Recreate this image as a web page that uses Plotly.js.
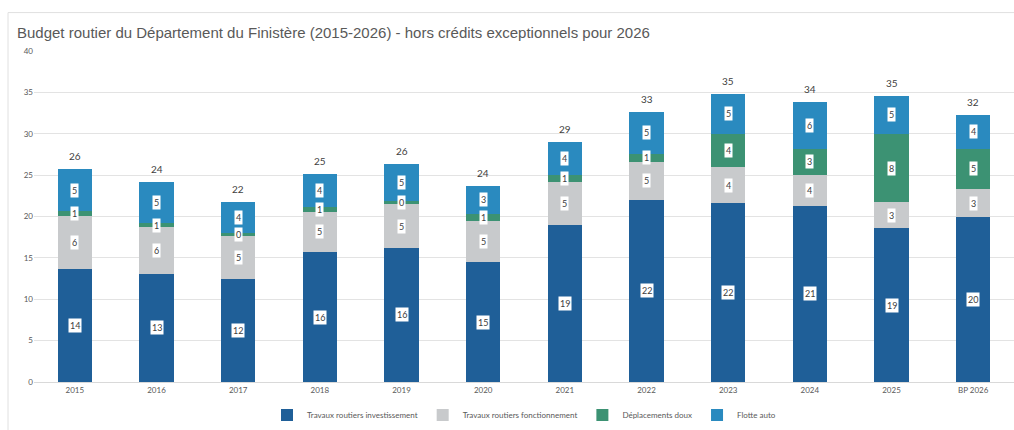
<!DOCTYPE html>
<html>
<head>
<meta charset="utf-8">
<script src="https://cdn.plot.ly/plotly-3.0.1.min.js"></script>
<style>html,body{margin:0;padding:0;background:#fff;}#chart{width:1014px;height:430px;}</style>
</head>
<body>
<div id="chart"></div>
<script>
var categories = ["2015","2016","2017","2018","2019","2020","2021","2022","2023","2024","2025","BP 2026"];
var investissement = [13.7, 13.1, 12.4, 15.7, 16.2, 14.5, 19.0, 22.0, 21.6, 21.3, 18.6, 19.9];
var fonctionnement = [6.4, 5.6, 5.3, 4.9, 5.3, 5.0, 5.2, 4.6, 4.4, 3.7, 3.1, 3.4];
var deplacements   = [0.6, 0.5, 0.3, 0.6, 0.4, 0.8, 0.8, 1.0, 4.0, 3.2, 8.3, 4.9];
var flotte         = [5.0, 5.0, 3.8, 3.9, 4.5, 3.4, 4.0, 5.0, 4.8, 5.6, 4.6, 4.1];
var seriesNames = ["Travaux routiers investissement", "Travaux routiers fonctionnement", "Déplacements doux", "Flotte auto"];

var series = [investissement, fonctionnement, deplacements, flotte];
var colors = ["#1f5f98", "#c8cacc", "#3c9273", "#2a8abf"];
var FONT = "Lato, 'Open Sans', sans-serif";

var traces = series.map(function(vals, i){
  return {type:'bar', name: seriesNames[i], x: categories, y: vals,
    marker:{color: colors[i]}, hoverinfo:'none'};
});

var annotations = [];
categories.forEach(function(c, j){
  var base = 0;
  series.forEach(function(vals){
    var v = vals[j];
    annotations.push({x:j, y: base + v/2, xref:'x', yref:'y', text: String(Math.round(v)),
      showarrow:false, bgcolor:'#ffffff', borderpad:1,
      font:{family:FONT, size:9, color:'#404040'}});
    base += v;
  });
  annotations.push({x:j, y: base, xref:'x', yref:'y', text: String(Math.round(base)),
    showarrow:false, yanchor:'bottom', yshift:5,
    font:{family:FONT, size:10, color:'#404040'}});
});

var layout = {
  width:1014, height:430,
  margin:{l:34, r:0, t:51, b:43},
  paper_bgcolor:'#ffffff', plot_bgcolor:'#ffffff',
  barmode:'stack', bargap:0.58,
  font:{family:FONT, color:'#595959'},
  title:{text:"Budget routier du Département du Finistère (2015-2026) - hors crédits exceptionnels pour 2026",
    x:17/1014, xanchor:'left', xref:'container', y:1-33/430, yanchor:'middle', yref:'container',
    font:{family:"'Liberation Sans', Arial, sans-serif", size:15, color:'#595959'}},
  xaxis:{type:'category', range:[-0.5, categories.length-0.5], autorange:false,
    tickfont:{size:8, color:'#595959'}, showgrid:false, zeroline:false,
    showline:true, linecolor:'#d9d9d9', ticks:'', automargin:false},
  yaxis:{range:[0,40], autorange:false, dtick:5, tickfont:{size:8, color:'#595959'}, gridcolor:'#e3e3e3',
    zeroline:false, showline:false, ticks:'', automargin:false},
  legend:{orientation:'h', x:0.5, xanchor:'center', y:-0.1, yanchor:'middle',
    font:{size:8, color:'#595959'}, itemwidth:30, traceorder:'normal'},
  annotations: annotations,
  shapes:[{type:'rect', xref:'paper', yref:'paper', x0:-26/980, x1:1.05, y0:-0.3, y1:(387-12)/336,
    line:{color:'#e0e0e0', width:1}}]
};

Plotly.newPlot('chart', traces, layout, {staticPlot:true, displayModeBar:false});
</script>
</body>
</html>
